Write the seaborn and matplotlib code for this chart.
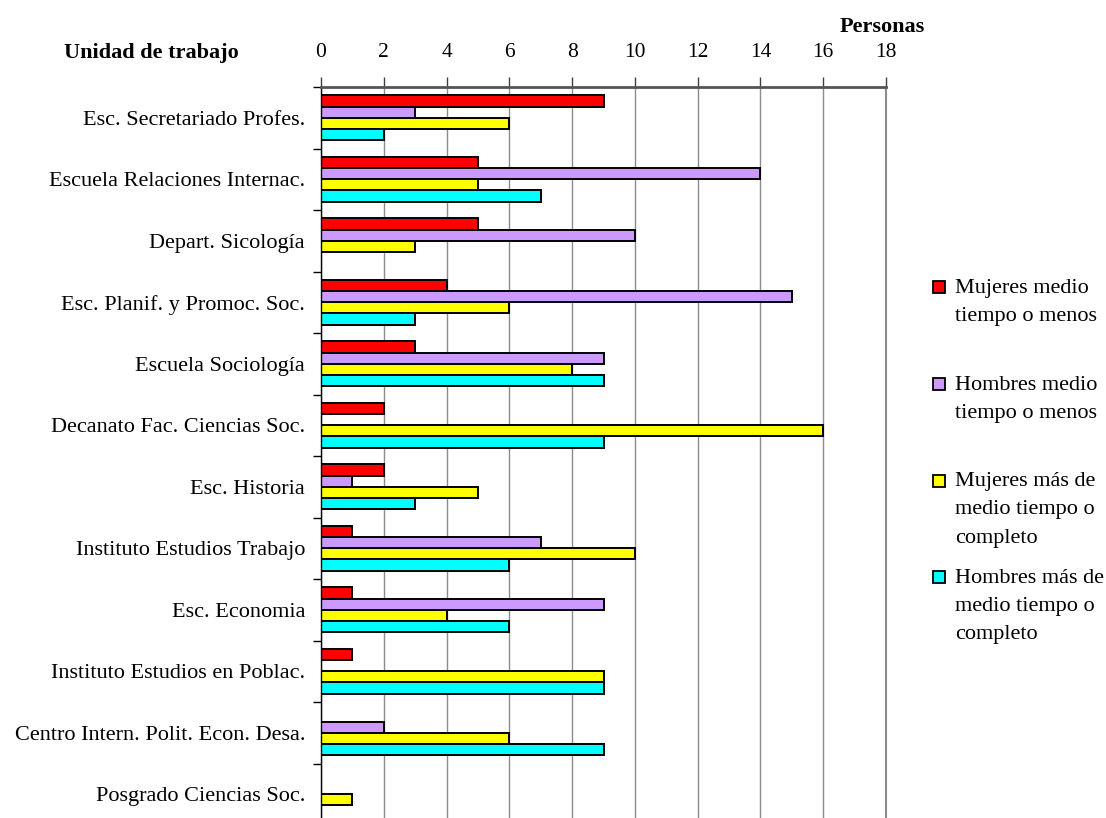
import matplotlib
matplotlib.use("Agg")
import matplotlib.pyplot as plt
import seaborn as sns
import pandas as pd
import numpy as np
from matplotlib.patches import Patch, Rectangle
from matplotlib.legend_handler import HandlerPatch
from matplotlib.ticker import FixedLocator

# Unidades de trabajo (de arriba hacia abajo)
unidades = [
    "Esc. Secretariado Profes.",
    "Escuela Relaciones Internac.",
    "Depart. Sicología",
    "Esc. Planif. y Promoc. Soc.",
    "Escuela Sociología",
    "Decanato Fac. Ciencias Soc.",
    "Esc. Historia",
    "Instituto Estudios Trabajo",
    "Esc. Economia",
    "Instituto Estudios en Poblac.",
    "Centro Intern. Polit. Econ. Desa.",
    "Posgrado Ciencias Soc.",
]

mujeres_medio = [9, 5, 5, 4, 3, 2, 2, 1, 1, 1, 0, 0]
hombres_medio = [3, 14, 10, 15, 9, 0, 1, 7, 9, 0, 2, 0]
mujeres_completo = [6, 5, 3, 6, 8, 16, 5, 10, 4, 9, 6, 1]
hombres_completo = [2, 7, 0, 3, 9, 9, 3, 6, 6, 9, 9, 0]

series = [
    "Mujeres medio\ntiempo o menos",
    "Hombres medio\ntiempo o menos",
    "Mujeres más de\nmedio tiempo o\ncompleto",
    "Hombres más de\nmedio tiempo o\ncompleto",
]
colores = ["#FF0000", "#CC99FF", "#FFFF00", "#00FFFF"]
ticks_x = [0, 2, 4, 6, 8, 10, 12, 14, 16, 18]

plt.rcParams["font.family"] = ["Liberation Serif", "DejaVu Serif"]

valores = [mujeres_medio, hombres_medio, mujeres_completo, hombres_completo]
df = pd.DataFrame({
    "Unidad": unidades * len(series),
    "Personas": [v for serie in valores for v in serie],
    "Serie": [s for s in series for _ in unidades],
})

fig = plt.figure(figsize=(11.06, 8.18), dpi=100)
ax = fig.add_axes([321 / 1106, -7 / 818, 565 / 1106, 738 / 818])

sns.barplot(
    data=df, y="Unidad", x="Personas", hue="Serie",
    order=unidades, hue_order=series, palette=colores,
    orient="h", width=0.73, gap=0, saturation=1,
    edgecolor="black", linewidth=1.4, errorbar=None,
    legend=False, ax=ax,
)

ax.set_xlim(0, 18)
ax.set_ylim(len(unidades) - 0.5, -0.5)
ax.set_xlabel("")
ax.set_ylabel("")

# Eje de valores arriba
ax.xaxis.set_ticks_position("top")
ax.set_xticks(ticks_x)
ax.set_xticklabels([str(t) for t in ticks_x])
ax.tick_params(axis="x", direction="out", length=7, width=1,
               color="#404040", pad=11, labelsize=15.5)

# Marcas entre categorías
ax.yaxis.set_minor_locator(FixedLocator(np.arange(-0.5, len(unidades), 1)))
ax.tick_params(axis="y", which="major", length=0, pad=11.5, labelsize=16)
ax.tick_params(axis="y", which="minor", length=6, width=1,
               color="black", direction="out")

ax.grid(axis="x", color="#8c8c8c", linewidth=1)
ax.set_axisbelow(True)

ax.spines["top"].set_color("#555555")
ax.spines["top"].set_linewidth(2)
ax.spines["right"].set_color("#8c8c8c")
ax.spines["right"].set_linewidth(1.5)
ax.spines["left"].set_color("black")
ax.spines["left"].set_linewidth(1)
ax.spines["bottom"].set_visible(False)

fig.text(151 / 1106, 1 - 53 / 818, "Unidad de trabajo", ha="center",
         va="center", fontsize=16, fontweight="bold")
fig.text(882 / 1106, 1 - 27 / 818, "Personas", ha="center",
         va="center", fontsize=16, fontweight="bold")


# Leyenda: cuadro alineado con la primera línea de cada rótulo
def cuadro(legend, orig_handle, xdescent, ydescent, width, height, fontsize):
    lado = 0.54 * fontsize
    y0 = -ydescent + height / 2 - lado / 2 + 20.5
    return Rectangle((-xdescent, y0), lado, lado)


etiquetas = [s if s.count("\n") == 2 else s + "\n" for s in series]
manijas = [Patch(facecolor=c, edgecolor="black", linewidth=1.3)
           for c in colores]
leg = fig.legend(
    manijas, etiquetas, loc="upper left",
    bbox_to_anchor=(933 / 1106, 1 - 279 / 818),
    frameon=False, borderpad=0, borderaxespad=0,
    handlelength=0.54, handleheight=0.7, handletextpad=0.45,
    labelspacing=0.95, fontsize=16,
    handler_map={Patch: HandlerPatch(patch_func=cuadro)},
)
for t in leg.get_texts():
    t.set_linespacing(1.66)

fig.savefig("out.png", dpi=100)
